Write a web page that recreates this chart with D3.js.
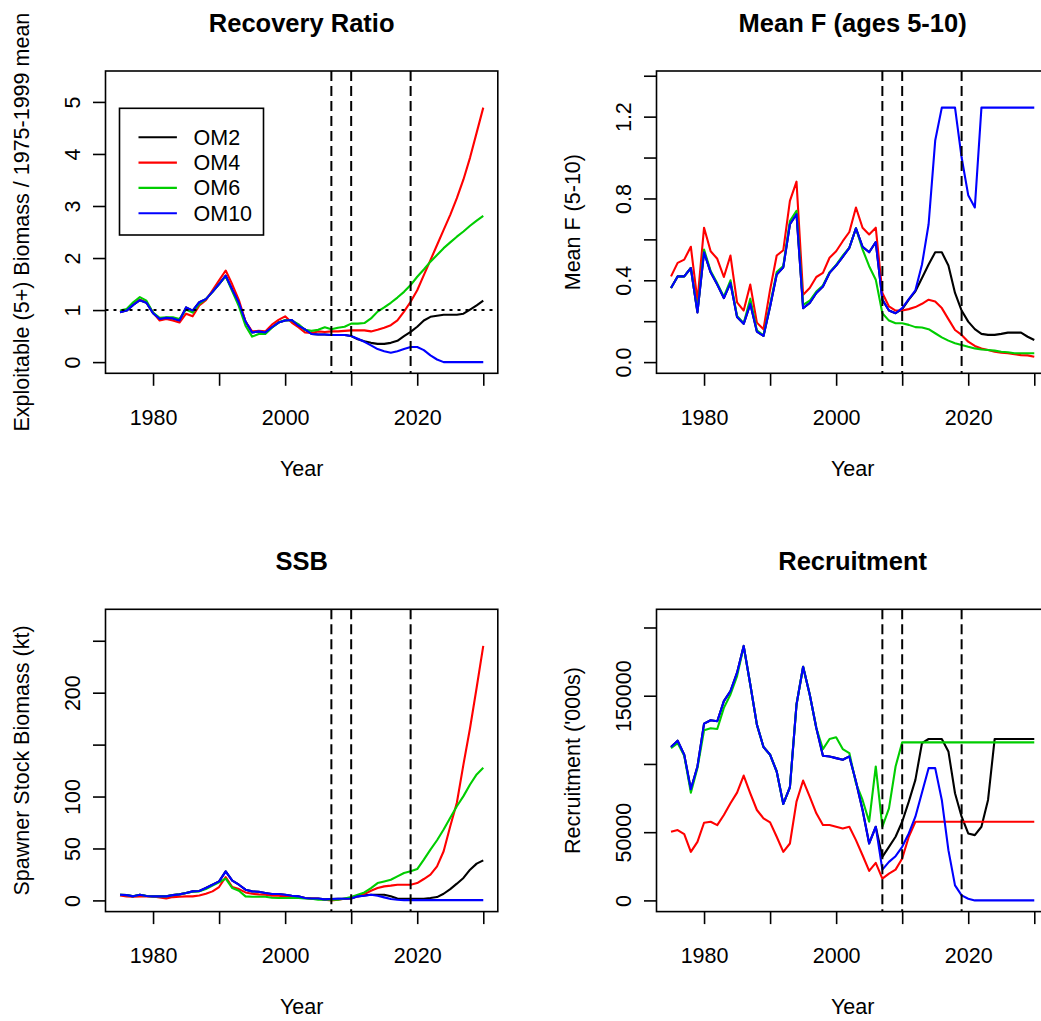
<!DOCTYPE html>
<html>
<head>
<meta charset="utf-8">
<script src="https://cdn.jsdelivr.net/npm/d3@7"></script>
<style>
  body { margin: 0; background: #fff; }
  svg { display: block; }
  text { font-family: "Liberation Sans", Arial, Helvetica, sans-serif; fill: #000; }
</style>
</head>
<body>
<svg id="fig" width="1041" height="1021"></svg>
<script>
// ---- data -------------------------------------------------------------
const years = d3.range(1975, 2031);
const models = ["OM2", "OM4", "OM6", "OM10"];
const modelColors = ["#000000", "#FF0000", "#00CD00", "#0000FF"];
const markerYears = [2007, 2010, 2019];
const xTicks = [1980, 1990, 2000, 2010, 2020, 2030];
const xTickLabels = ["1980", "", "2000", "", "2020", ""];

// Exploitable (5+) biomass relative to the 1975-1999 mean
const ratioOM2 = [0.96,0.99,1.10,1.19,1.14,0.94,0.83,0.85,0.84,0.80,1.05,0.99,1.15,1.21,1.35,1.50,1.66,1.39,1.14,0.78,0.57,0.59,0.57,0.67,0.76,0.80,0.81,0.70,0.63,0.54,0.53,0.53,0.52,
  0.52,0.52,0.50,0.44,0.40,0.37,0.35,0.35,0.37,0.41,0.50,0.58,0.68,0.80,0.87,0.89,0.91,0.91,0.91,0.93,1.01,1.09,1.18];
const ratioOM4 = [0.97,1.01,1.12,1.20,1.15,0.95,0.80,0.83,0.80,0.76,0.93,0.88,1.09,1.19,1.38,1.57,1.76,1.49,1.19,0.78,0.59,0.60,0.59,0.72,0.81,0.88,0.76,0.67,0.57,0.56,0.59,0.58,0.59,
  0.59,0.60,0.61,0.61,0.61,0.59,0.62,0.66,0.71,0.80,0.97,1.16,1.38,1.67,1.96,2.25,2.54,2.83,3.15,3.51,3.93,4.41,4.89];
const ratioOM6 = [0.99,1.02,1.15,1.25,1.18,0.95,0.85,0.86,0.86,0.83,1.01,0.95,1.12,1.21,1.35,1.50,1.65,1.36,1.07,0.70,0.49,0.54,0.54,0.66,0.76,0.81,0.80,0.73,0.62,0.60,0.62,0.67,0.63,
  0.66,0.68,0.74,0.74,0.75,0.84,0.97,1.05,1.14,1.24,1.35,1.48,1.64,1.78,1.93,2.06,2.19,2.30,2.41,2.51,2.62,2.72,2.81];
const ratioOM10 = [0.96,0.99,1.10,1.19,1.14,0.94,0.83,0.85,0.84,0.80,1.05,0.99,1.15,1.21,1.35,1.50,1.66,1.39,1.14,0.78,0.57,0.59,0.57,0.67,0.76,0.80,0.81,0.70,0.63,0.54,0.53,0.53,0.52,
  0.52,0.52,0.50,0.45,0.39,0.32,0.25,0.21,0.18,0.21,0.25,0.29,0.29,0.23,0.13,0.05,0,0,0,0,0,0,0];

// Mean fishing mortality, ages 5-10
const fOM2 = [0.362,0.419,0.419,0.46,0.243,0.537,0.439,0.379,0.313,0.387,0.22,0.187,0.285,0.149,0.128,0.272,0.428,0.464,0.674,0.723,0.264,0.289,0.338,0.37,0.436,0.472,0.515,0.559,0.654,0.564,0.537,0.587,0.305,
  0.252,0.239,0.259,0.305,0.346,0.411,0.477,0.537,0.537,0.472,0.338,0.252,0.198,0.161,0.138,0.133,0.133,0.138,0.144,0.144,0.144,0.124,0.108];
const fOM4 = [0.419,0.485,0.501,0.564,0.30,0.657,0.542,0.505,0.416,0.521,0.292,0.252,0.379,0.193,0.161,0.354,0.521,0.547,0.788,0.882,0.329,0.362,0.416,0.436,0.51,0.542,0.591,0.636,0.756,0.657,0.624,0.657,0.338,
  0.272,0.252,0.252,0.259,0.269,0.285,0.305,0.296,0.264,0.21,0.157,0.133,0.10,0.079,0.067,0.059,0.051,0.046,0.043,0.038,0.034,0.033,0.026];
const fOM6 = [0.362,0.419,0.419,0.46,0.25,0.55,0.445,0.385,0.32,0.40,0.225,0.19,0.31,0.155,0.13,0.28,0.44,0.47,0.69,0.74,0.28,0.30,0.345,0.375,0.44,0.475,0.52,0.56,0.654,0.551,0.469,0.403,0.239,
  0.203,0.19,0.19,0.182,0.171,0.169,0.161,0.141,0.121,0.105,0.092,0.084,0.075,0.067,0.062,0.059,0.056,0.051,0.048,0.043,0.043,0.043,0.043];
const fOM10 = [0.362,0.419,0.419,0.46,0.243,0.537,0.439,0.379,0.313,0.387,0.22,0.187,0.285,0.149,0.128,0.272,0.428,0.464,0.674,0.723,0.264,0.289,0.338,0.37,0.436,0.472,0.515,0.559,0.654,0.564,0.537,0.587,0.305,
  0.252,0.239,0.264,0.308,0.351,0.477,0.674,1.083,1.244,1.244,1.244,1.0,0.816,0.756,1.244,1.244,1.244,1.244,1.244,1.244,1.244,1.244,1.244];

// Spawner stock biomass (kt)
const ssbOM2 = [5.5,5.1,3.9,5.5,4.2,3.9,3.9,3.9,5.1,5.8,7.1,8.7,9.0,11.9,15.1,18.3,28,19,15.1,10.3,8.7,8.4,7.1,6.1,6.1,5.5,4.5,3.9,2.3,1.9,1.9,1.0,1.3,
  1.6,1.6,1.9,3.9,4.8,5.5,5.5,5.5,3.9,1.9,1.6,1.6,1.6,1.6,2.3,3.2,6.4,10.9,16.1,21.6,29.6,35.4,38.6];
const ssbOM4 = [4.8,3.9,3.5,3.9,3.9,3.9,2.9,1.9,3.2,3.5,3.9,3.9,4.8,6.4,8.7,12.9,22.5,12.9,10.9,7.7,6.4,5.8,5.5,4.5,4.5,3.9,3.9,3.2,2.3,1.9,1.6,0.6,0,
  0.6,1.6,2.3,3.9,6.1,9.3,11.9,13.5,14.2,15.1,15.1,15.1,16.7,20.6,24.8,32.8,47.3,71.4,94,131,166,205,245];
const ssbOM6 = [5.5,5.1,3.9,5.5,4.2,3.9,3.9,3.9,5.1,5.8,7.1,8.4,8.7,10.9,14.2,17.4,20.9,11.9,9.3,3.9,3.5,3.5,3.5,2.6,2.3,2.3,2.3,2.3,1.9,1.6,0.6,0.6,0.6,
  0.6,1.9,3.2,5.5,7.7,11.9,16.7,18.3,19.9,23.2,26.4,28,30.2,39.3,48.9,57.9,68.2,79.5,90.7,100.4,111.6,121.3,127.7];
const ssbOM10 = [5.5,5.1,3.9,5.5,4.2,3.9,3.9,3.9,5.1,5.8,7.1,8.7,9.0,11.9,15.1,18.3,28,19,15.1,10.3,8.7,8.4,7.1,6.1,6.1,5.5,4.5,3.9,2.3,1.9,1.9,1.0,1.3,
  1.6,1.6,1.9,3.9,4.5,5.5,4.5,2.9,1.3,0.6,0.3,0.3,0.3,0.3,0.3,0.3,0.3,0.3,0.3,0.3,0.3,0.3,0.3];

// Recruitment ('000s)
const recOM2 = [112380,117040,106740,81460,98150,129550,132010,131270,145990,153360,166850,186480,158260,128820,112380,106740,94470,70670,82930,143540,171270,150900,126370,106000,105510,104280,103060,105510,87110,66250,41710,53980,31900,
  39260,46620,57660,72380,88330,115320,118270,118270,118270,109190,78520,61340,49070,47850,53980,73610,118270,118270,118270,118270,118270,118270,118270];
const recOM4 = [50300,51530,48580,35580,42940,56930,57660,55210,62570,71160,79010,91520,78520,66250,60120,57170,46620,35580,41710,72380,87840,76060,63800,55210,55210,53980,52750,53980,44170,33120,21590,27480,15950,
  19630,22570,30670,46620,57660,57660,57660,57660,57660,57660,57660,57660,57660,57660,57660,57660,57660,57660,57660,57660,57660,57660,57660];
const recOM6 = [111600,115300,106000,79000,97000,124650,126120,125630,141090,150900,164400,186000,158260,128820,112380,106740,94470,70670,82930,143540,171270,150900,126370,110910,118270,119500,110910,107960,85880,73610,57660,98150,53980,
  67480,98150,115820,115820,115820,115820,115820,115820,115820,115820,115820,115820,115820,115820,115820,115820,115820,115820,115820,115820,115820,115820,115820];
const recOM10 = [112380,117040,106740,81460,98150,129550,132010,131270,145990,153360,166850,186480,158260,128820,112380,106740,94470,70670,82930,143540,171270,150900,126370,106000,105510,104280,103060,105510,87110,66250,41710,53980,22570,
  28220,32390,39260,49070,61340,79010,96920,96920,73610,36810,11040,3680,1230,0,0,0,0,0,0,0,0,0,0];

// y-axis ticks (empty labels are ticks whose labels would collide)
const ratioTicks = [0, 1, 2, 3, 4, 5];
const ratioTickLabels = ["0", "1", "2", "3", "4", "5"];
const fTicks = [0, 0.2, 0.4, 0.6, 0.8, 1.0, 1.2, 1.4];
const fTickLabels = ["0.0", "", "0.4", "", "0.8", "", "1.2", ""];
const ssbTicks = [0, 50, 100, 150, 200, 250];
const ssbTickLabels = ["0", "50", "100", "", "200", ""];
const recTicks = [0, 50000, 100000, 150000, 200000];
const recTickLabels = ["0", "50000", "", "150000", ""];

// ---- panel definitions --------------------------------------------------
const panels = [
  { title: "Recovery Ratio", ylab: "Exploitable (5+) Biomass / 1975-1999 mean",
    series: [ratioOM2, ratioOM4, ratioOM6, ratioOM10], ticks: ratioTicks, tickLabels: ratioTickLabels,
    refLine: 1, legend: true },
  { title: "Mean F (ages 5-10)", ylab: "Mean F (5-10)",
    series: [fOM2, fOM4, fOM6, fOM10], ticks: fTicks, tickLabels: fTickLabels },
  { title: "SSB", ylab: "Spawner Stock Biomass (kt)",
    series: [ssbOM2, ssbOM4, ssbOM6, ssbOM10], ticks: ssbTicks, tickLabels: ssbTickLabels },
  { title: "Recruitment", ylab: "Recruitment ('000s)",
    series: [recOM2, recOM4, recOM6, recOM10], ticks: recTicks, tickLabels: recTickLabels }
];

// ---- layout ------------------------------------------------------------
const colLeft = [105.5, 656.5];
const rowTop = [71, 609.3];
const plotW = 392.3, plotH = 302.3;
const tickLen = 12.5;
const fontSize = 21.5;

const svg = d3.select("#fig");
svg.append("rect").attr("width", 1041).attr("height", 1021).attr("fill", "#fff");

// R-style axis range: data range padded by 4% on each side
function padded(lo, hi) { const d = (hi - lo) * 0.04; return [lo - d, hi + d]; }

panels.forEach((p, i) => {
  const L = colLeft[i % 2], T = rowTop[Math.floor(i / 2)];
  const g = svg.append("g").attr("transform", `translate(${L},${T})`);

  const x = d3.scaleLinear().domain(padded(d3.min(years), d3.max(years))).range([0, plotW]);
  const ymax = d3.max(p.series, s => d3.max(s)) * 1.1;
  const y = d3.scaleLinear().domain(padded(0, ymax)).range([plotH, 0]);

  const clipId = "clip" + i;
  g.append("clipPath").attr("id", clipId)
    .append("rect").attr("width", plotW).attr("height", plotH);
  const plot = g.append("g").attr("clip-path", `url(#${clipId})`);

  // series lines
  const line = d3.line().x((d, k) => x(years[k])).y(d => y(d));
  p.series.forEach((s, k) => {
    plot.append("path").datum(s)
      .attr("d", line)
      .attr("fill", "none")
      .attr("stroke", modelColors[k])
      .attr("stroke-width", 2.1)
      .attr("stroke-linejoin", "round");
  });

  // reference line
  if (p.refLine !== undefined) {
    plot.append("line")
      .attr("x1", 0).attr("x2", plotW)
      .attr("y1", y(p.refLine)).attr("y2", y(p.refLine))
      .attr("stroke", "#000").attr("stroke-width", 2).attr("stroke-dasharray", "3,5");
  }

  // period markers
  plot.selectAll("line.marker").data(markerYears).enter().append("line")
    .attr("class", "marker")
    .attr("x1", d => x(d)).attr("x2", d => x(d))
    .attr("y1", 0).attr("y2", plotH)
    .attr("stroke", "#000").attr("stroke-width", 2).attr("stroke-dasharray", "10,5");

  // frame
  g.append("rect").attr("width", plotW).attr("height", plotH)
    .attr("fill", "none").attr("stroke", "#000").attr("stroke-width", 1.6);

  // x axis
  const xAxis = g.append("g").attr("transform", `translate(0,${plotH})`)
    .call(d3.axisBottom(x).tickValues(xTicks).tickSize(tickLen)
      .tickFormat((d, k) => xTickLabels[k]));
  xAxis.select(".domain").remove();
  xAxis.selectAll(".tick line").attr("stroke", "#000").attr("stroke-width", 1.6);
  xAxis.selectAll(".tick text").attr("y", 51.7).attr("dy", 0)
    .attr("font-size", fontSize).attr("font-family", null).attr("fill", "#000");
  xAxis.attr("font-family", null).attr("font-size", null);

  // y axis, labels parallel to the axis
  const yAxis = g.append("g")
    .call(d3.axisLeft(y).tickValues(p.ticks).tickSize(tickLen)
      .tickFormat((d, k) => p.tickLabels[k]));
  yAxis.select(".domain").remove();
  yAxis.selectAll(".tick line").attr("stroke", "#000").attr("stroke-width", 1.6);
  yAxis.selectAll(".tick text")
    .attr("transform", "rotate(-90)")
    .attr("x", 0).attr("y", -26).attr("dy", 0)
    .attr("text-anchor", "middle")
    .attr("font-size", fontSize).attr("fill", "#000");
  yAxis.attr("font-family", null).attr("font-size", null);

  // titles
  g.append("text").attr("x", plotW / 2).attr("y", -39.3)
    .attr("text-anchor", "middle").attr("font-weight", "bold").attr("font-size", 25.5)
    .text(p.title);
  g.append("text").attr("x", plotW / 2).attr("y", plotH + 102.7)
    .attr("text-anchor", "middle").attr("font-size", fontSize).text("Year");
  g.append("text")
    .attr("transform", `translate(-77,${plotH / 2}) rotate(-90)`)
    .attr("text-anchor", "middle").attr("font-size", fontSize).text(p.ylab);

  // legend
  if (p.legend) {
    const lg = g.append("g").attr("transform", "translate(14,37.3)");
    lg.append("rect").attr("width", 144).attr("height", 126.7)
      .attr("fill", "#fff").attr("stroke", "#000").attr("stroke-width", 1.6);
    models.forEach((m, k) => {
      const yy = 29 + k * 25.3;
      lg.append("line").attr("x1", 19).attr("x2", 57.4).attr("y1", yy).attr("y2", yy)
        .attr("stroke", modelColors[k]).attr("stroke-width", 2.1);
      lg.append("text").attr("x", 74).attr("y", yy + 7.6)
        .attr("font-size", fontSize).text(m);
    });
  }
});
</script>
</body>
</html>
